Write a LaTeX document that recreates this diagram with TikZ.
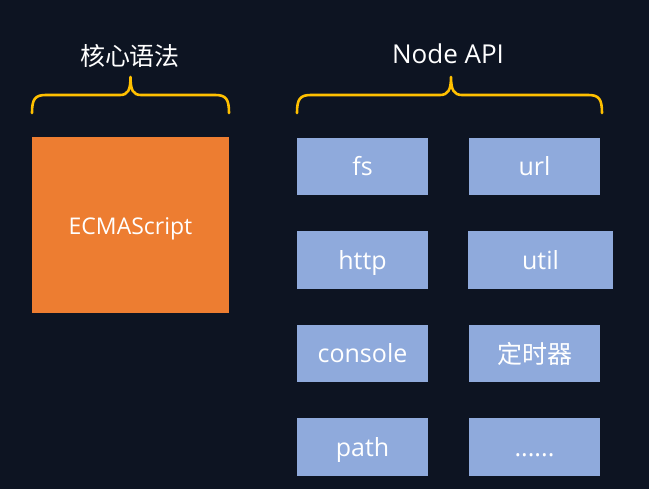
\documentclass[tikz,border=0pt]{standalone}
\usepackage{fontspec}
\setmainfont{Open Sans}
\newfontfamily\cjk{Noto Sans CJK SC}
\definecolor{bgnavy}{HTML}{0D1422}
\definecolor{esorange}{HTML}{ED7D31}
\definecolor{apiblue}{HTML}{8FAADC}
\definecolor{bracegold}{HTML}{FFC000}
\begin{document}
\begin{tikzpicture}[x=1pt,y=-1pt,
  apibox/.style={fill=apiblue, minimum width=131pt, minimum height=57.5pt, inner sep=0pt,
    text=white, font=\fontsize{25}{25}\selectfont, text height=24pt, text depth=5pt},
  esbox/.style={fill=esorange, minimum width=197pt, minimum height=176pt, inner sep=0pt,
    text=white, font=\fontsize{23}{23}\selectfont, text height=24pt, text depth=4pt},
  title/.style={text=white, inner sep=0pt, anchor=base},
  bracel/.style={draw=bracegold, line width=2.6pt, line cap=round, line join=round}]
\fill[bgnavy] (0,0) rectangle (649,489);
\useasboundingbox (0,0) rectangle (649,489);

% titles
\node[title, font=\cjk\fontsize{25}{25}\selectfont] (tcore) at (130,66) {核心语法};
\node[title, font=\fontsize{26}{26}\selectfont] (tnode) at (448,64) {Node API};

% braces
\draw[bracel] (32,113) .. controls (32,99) and (35,95) .. (46,95) -- (120,95)
  .. controls (128,95) and (130.5,90) .. (130.5,77)
  .. controls (130.5,90) and (133,95) .. (141,95) -- (215,95)
  .. controls (226,95) and (229,99) .. (229,113);
\draw[bracel] (297,113) .. controls (297,99) and (300,95) .. (311,95) -- (440,95)
  .. controls (448,95) and (451,90) .. (451,77)
  .. controls (451,90) and (454,95) .. (462,95) -- (588,95)
  .. controls (599,95) and (602,99) .. (602,113);

% core box
\node[esbox] (es) at (130.5,225) {ECMAScript};

% api boxes
\node[apibox] (fs) at (362.5,166.5) {fs};
\node[apibox] (url) at (534.5,166.5) {url};
\node[apibox] (http) at (362.5,260) {http};
\node[apibox, minimum width=145pt] (util) at (540.5,260) {util};
\node[apibox] (console) at (362.5,353.5) {console};
\node[apibox, font=\cjk\fontsize{25}{25}\selectfont, text height=22pt, text depth=2pt] (timer) at (534.5,353.5) {定时器};
\node[apibox] (path) at (362.5,447) {path};
\node[apibox] (more) at (534.5,447) {......};
\end{tikzpicture}
\end{document}
